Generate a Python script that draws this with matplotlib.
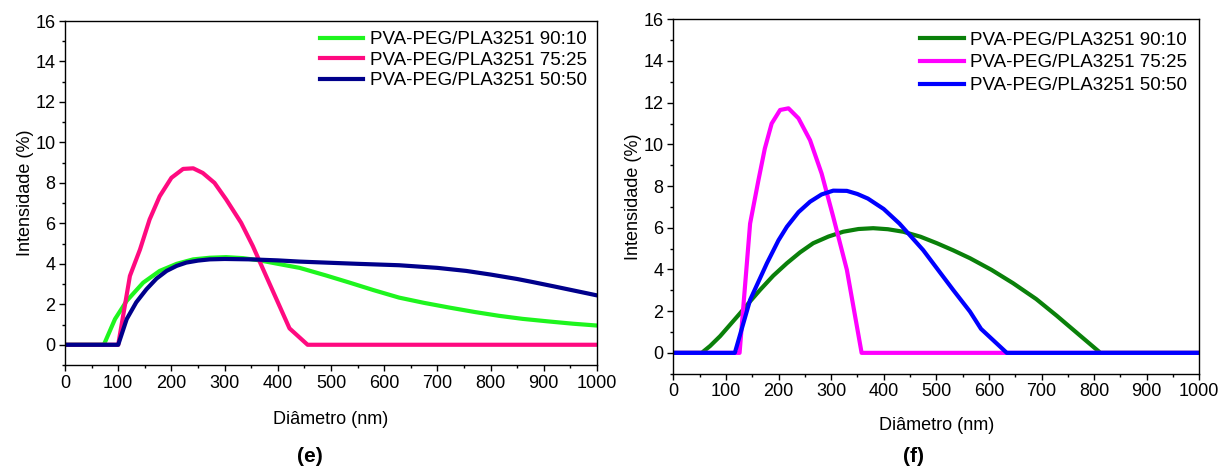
import numpy as np
import matplotlib
matplotlib.use('Agg')
import matplotlib.pyplot as plt
from matplotlib.ticker import MultipleLocator

plt.rcParams['font.family'] = ['Liberation Sans', 'DejaVu Sans']

labels = ['PVA-PEG/PLA3251 90:10', 'PVA-PEG/PLA3251 75:25', 'PVA-PEG/PLA3251 50:50']

# panel (e)
e_9010_x = [0, 73, 94, 116, 147, 178, 210, 241, 272, 303, 335, 366, 400, 441, 490, 535,
            580, 628, 675, 722, 770, 816, 860, 910, 955, 1000]
e_9010_y = [0, 0, 1.27, 2.17, 3.07, 3.65, 4.0, 4.22, 4.3, 4.33, 4.28, 4.17, 4.0, 3.8, 3.43, 3.07,
            2.7, 2.33, 2.07, 1.84, 1.62, 1.43, 1.28, 1.15, 1.04, 0.95]
e_7525_x = [0, 100, 122, 141, 159, 178, 200, 222, 241, 259, 281, 303, 331, 353, 378, 422, 456, 1000]
e_7525_y = [0, 0, 3.4, 4.71, 6.19, 7.34, 8.25, 8.69, 8.72, 8.49, 8.0, 7.18, 6.03, 4.88, 3.4, 0.81, 0, 0]
e_5050_x = [0, 100, 116, 134, 153, 172, 191, 210, 228, 250, 272, 300, 350, 400, 441, 500,
            550, 628, 700, 754, 800, 850, 879, 920, 960, 1000]
e_5050_y = [0, 0, 1.27, 2.1, 2.74, 3.27, 3.65, 3.9, 4.06, 4.16, 4.22, 4.24, 4.22, 4.17, 4.11, 4.05,
            4.0, 3.93, 3.8, 3.65, 3.47, 3.25, 3.1, 2.88, 2.66, 2.44]

# panel (f)
f_9010_x = [0, 54, 70, 89, 108, 127, 146, 165, 190, 216, 241, 266, 295, 323, 352, 380, 408, 437,
            470, 501, 532, 564, 605, 646, 690, 729, 770, 812, 1000]
f_9010_y = [0, 0, 0.33, 0.8, 1.35, 1.9, 2.47, 3.02, 3.7, 4.3, 4.82, 5.26, 5.58, 5.81, 5.94, 5.98, 5.93, 5.81,
            5.57, 5.26, 4.92, 4.54, 3.98, 3.34, 2.58, 1.78, 0.9, 0, 0]
f_7525_x = [0, 126, 146, 162, 174, 187, 203, 219, 238, 260, 282, 304, 330, 358, 1000]
f_7525_y = [0, 0, 6.2, 8.3, 9.8, 11.0, 11.65, 11.73, 11.25, 10.2, 8.6, 6.53, 3.98, 0, 0]
f_5050_x = [0, 117, 146, 178, 200, 216, 238, 260, 282, 304, 330, 350, 370, 400, 430, 475, 532, 564, 585, 634, 1000]
f_5050_y = [0, 0, 2.54, 4.3, 5.4, 6.05, 6.75, 7.25, 7.6, 7.78, 7.77, 7.62, 7.4, 6.9, 6.2, 4.93, 3.02, 1.98, 1.15, 0, 0]

colors_e = ['#1ef51e', '#ff0a80', '#00008b']
colors_f = ['#0a800a', '#ff00ff', '#0000ff']


def style_axis(ax, pad):
    ax.set_xlim(0, 1000)
    ax.set_ylim(-1, 16)
    ax.xaxis.set_major_locator(MultipleLocator(100))
    ax.xaxis.set_minor_locator(MultipleLocator(50))
    ax.yaxis.set_minor_locator(MultipleLocator(1))
    ax.set_yticks(range(0, 17, 2))
    ax.tick_params(which='major', direction='out', length=4, width=1, labelsize=13, pad=3)
    ax.tick_params(which='minor', direction='out', length=2.5, width=1)
    ax.tick_params(top=False, right=False, which='both')
    for s in ax.spines.values():
        s.set_linewidth(1)
    ax.set_xlabel('Diâmetro (nm)', fontsize=13, labelpad=pad)
    ax.set_ylabel('Intensidade (%)', fontsize=13, labelpad=1)


fig = plt.figure(figsize=(12.22, 4.68), dpi=100)
fig.patch.set_facecolor('white')

ax1 = fig.add_axes([65/1222, 1-365/468, 532/1222, (365-21)/468])
ax1.plot(e_9010_x, e_9010_y, color=colors_e[0], lw=3, label=labels[0])
ax1.plot(e_7525_x, e_7525_y, color=colors_e[1], lw=3, label=labels[1])
ax1.plot(e_5050_x, e_5050_y, color=colors_e[2], lw=3, label=labels[2])
style_axis(ax1, 14)
ax1.legend(loc='upper right', frameon=False, fontsize=13.5, handlelength=2.3, handletextpad=0.35,
           labelspacing=0.18, borderaxespad=0.15, borderpad=0.4)

ax2 = fig.add_axes([673.3/1222, 1-373.7/468, 526/1222, (373.7-19.3)/468])
ax2.plot(f_9010_x, f_9010_y, color=colors_f[0], lw=3, label=labels[0])
ax2.plot(f_7525_x, f_7525_y, color=colors_f[1], lw=3, label=labels[1])
ax2.plot(f_5050_x, f_5050_y, color=colors_f[2], lw=3, label=labels[2])
style_axis(ax2, 12)
ax2.legend(loc='upper right', frameon=False, fontsize=13.5, handlelength=2.3, handletextpad=0.35,
           labelspacing=0.3, borderaxespad=0.25, borderpad=0.4)

fig.text(310/1222, 1-456/468, '(e)', fontsize=15, fontweight='bold', ha='center', va='center')
fig.text(914/1222, 1-456/468, '(f)', fontsize=15, fontweight='bold', ha='center', va='center')

fig.savefig('out.png', dpi=100)
